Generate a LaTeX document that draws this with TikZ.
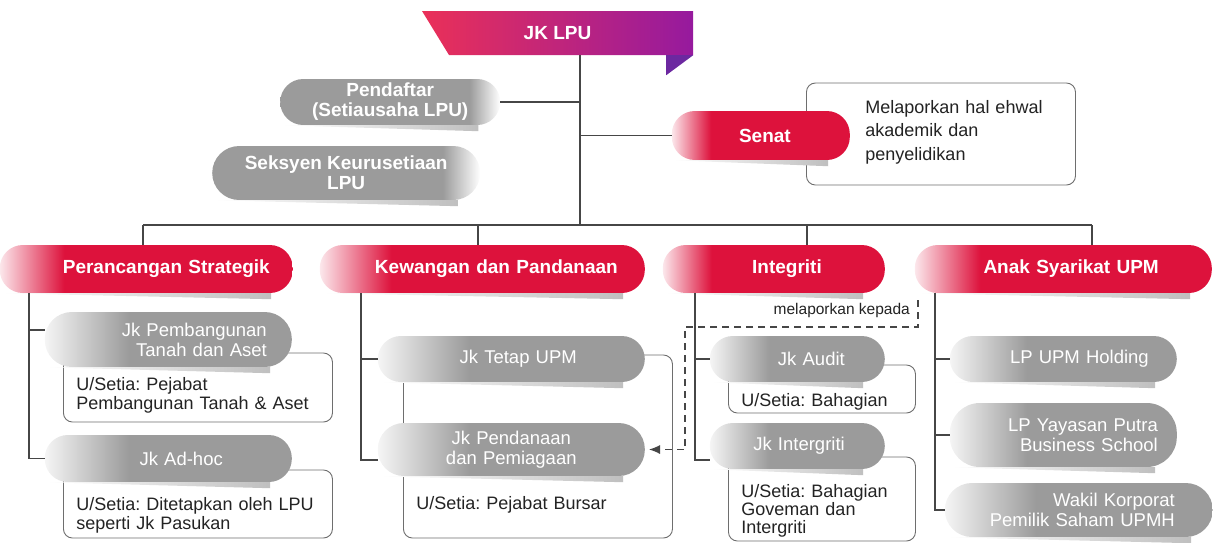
\documentclass[tikz,border=0pt]{standalone}
\usepackage{fontspec}
\setmainfont{Liberation Sans}
\usepackage{xcolor}
\usetikzlibrary{arrows.meta,positioning}
\definecolor{upmred}{RGB}{221,18,60}
\definecolor{pillgrey}{RGB}{155,155,155}
\definecolor{bannerleft}{RGB}{234,48,88}
\definecolor{bannerright}{RGB}{150,26,158}
\definecolor{foldpurple}{RGB}{108,40,160}
\definecolor{linegrey}{RGB}{70,70,70}
\definecolor{boxgrey}{RGB}{110,110,110}
\definecolor{textgrey}{RGB}{35,35,35}
\pgfdeclarehorizontalshading{headfade}{100bp}{color(0bp)=(upmred!10); color(25bp)=(upmred!10); color(36bp)=(upmred); color(100bp)=(upmred)}
\pgfdeclarehorizontalshading{greyfade}{100bp}{color(0bp)=(white); color(25bp)=(white!90!pillgrey); color(42bp)=(pillgrey); color(100bp)=(pillgrey)}
\pgfdeclarehorizontalshading{greyedge}{100bp}{color(0bp)=(pillgrey); color(68bp)=(pillgrey); color(75bp)=(white); color(100bp)=(white)}
\pgfdeclarehorizontalshading{bannerfade}{100bp}{color(0bp)=(bannerleft); color(25bp)=(bannerleft); color(75bp)=(bannerright); color(100bp)=(bannerright)}
\frenchspacing

\begin{document}
\begin{tikzpicture}[x=1pt, y=-1pt]
  \tikzstyle{conn}=[draw=linegrey, line width=1.2pt]
  \tikzstyle{pill}=[rectangle, rounded corners=23pt, shade, shading angle=0, inner ysep=0pt, align=right, text=white, anchor=east]
  \tikzstyle{headpill}=[pill, shading=headfade, minimum height=48pt, font=\fontsize{19}{21}\selectfont\bfseries]
  \tikzstyle{greypill}=[pill, shading=greyfade, minimum height=46pt, font=\fontsize{18.5}{20}\selectfont]
  \tikzstyle{toppill}=[pill, shading=greyedge, anchor=west, align=center, font=\fontsize{19}{20}\selectfont\bfseries]
  \tikzstyle{usbox}=[draw=boxgrey, line width=0.9pt, fill=white, rounded corners=9pt, align=left, inner xsep=13pt, inner ysep=0pt, anchor=base west, text=textgrey, font=\fontsize{18}{19.5}\selectfont]
  \tikzstyle{notetext}=[text=textgrey, font=\fontsize{15.5}{17}\selectfont]
  \useasboundingbox (0,0) rectangle (1214,542);

  % boxes behind the pills
  \node[usbox, inner xsep=0pt, text width=269pt, text height=30pt, text depth=72pt, font=\fontsize{18}{23.5}\selectfont] (senatnote) at (806,113)
    {\hspace*{59pt}\begin{tabular}[t]{@{}l@{}}Melaporkan hal ehwal\\akademik dan\\penyelidikan\end{tabular}};
  \node[usbox, text width=243pt, text height=37pt, text depth=32pt] (pembangunanus) at (63,390) {U/Setia: Pejabat\\Pembangunan Tanah \& Aset};
  \node[usbox, text width=243pt, text height=40pt, text depth=28pt] (adhocus) at (63,510) {U/Setia: Ditetapkan oleh LPU\\seperti Jk Pasukan};
  \node[usbox, text width=243pt, text height=154pt, text depth=29pt] (kewanganus) at (403,509) {U/Setia: Pejabat Bursar};
  \node[usbox, text width=161pt, text height=41pt, text depth=7pt] (auditus) at (728,406) {U/Setia: Bahagian};
  \node[usbox, text width=161pt, text height=40pt, text depth=44pt, font=\fontsize{18}{18}\selectfont] (intergritius) at (728,497) {U/Setia: Bahagian\\Goveman dan\\Intergriti};

  % top level
  \node[minimum width=271pt, minimum height=44pt, inner sep=0pt, text=white, font=\fontsize{19}{21}\selectfont\bfseries,
        path picture={\shade[shading=bannerfade] (path picture bounding box.north west) -- (path picture bounding box.north east)
          -- (path picture bounding box.south east) -- ([xshift=27pt]path picture bounding box.south west) -- cycle;}] (jklpu) at (557.5,33) {JK LPU};
  \fill[foldpurple] ([xshift=-27pt]jklpu.south east) -- (jklpu.south east) -- ([xshift=-27pt, yshift=-20pt]jklpu.south east) -- cycle;
  \node[toppill, minimum width=220pt, minimum height=46pt] (pendaftar) at (280,102) {Pendaftar\\(Setiausaha LPU)};
  \node[toppill, minimum width=268pt, minimum height=54pt, rounded corners=27pt] (seksyen) at (212,173) {Seksyen Keurusetiaan\\LPU};
  \node[headpill, minimum height=49pt, inner xsep=59pt, text width=60pt] (senat) at (850,135.5) {Senat};

  % divisions
  \node[headpill, inner xsep=23pt, text width=247pt] (strategik) at (293,269) {Perancangan Strategik};
  \node[headpill, inner xsep=27pt, text width=271pt] (kewangan) at (645,269) {Kewangan dan Pandanaan};
  \node[headpill, inner xsep=63pt, text width=96pt] (integriti) at (885,269) {Integriti};
  \node[headpill, inner xsep=53pt, text width=191pt] (anak) at (1212,269) {Anak Syarikat UPM};

  % committees
  \node[greypill, minimum height=55pt, rounded corners=27pt, inner xsep=25pt, text width=197pt] (pembangunan) at (292,339.5) {Jk Pembangunan\\Tanah dan Aset};
  \node[greypill, minimum height=47pt, inner xsep=69pt, text width=109pt] (adhoc) at (292,458.5) {Jk Ad-hoc};
  \node[greypill, inner xsep=68pt, text width=131pt] (tetap) at (645,359) {Jk Tetap UPM};
  \node[greypill, minimum height=53pt, rounded corners=26pt, inner xsep=63pt, text width=141pt, align=center] (pendanaan) at (645,449.5) {Jk Pendanaan\\dan Pemiagaan};
  \node[greypill, inner xsep=40pt, text width=95pt] (audit) at (885,359) {Jk Audit};
  \node[greypill, inner xsep=40pt, text width=95pt] (intergriti) at (885,446) {Jk Intergriti};
  \node[greypill, inner xsep=28pt, text width=171pt] (holding) at (1177,359) {LP UPM Holding};
  \node[greypill, minimum height=64pt, rounded corners=30pt, inner xsep=19pt, text width=189pt] (yayasan) at (1177,435) {LP Yayasan Putra\\Business School};
  \node[greypill, minimum height=54pt, rounded corners=27pt, inner xsep=38pt, text width=192pt] (wakil) at (1213,510) {Wakil Korporat\\Pemilik Saham UPMH};
  \node[notetext, anchor=north east, inner xsep=8pt, inner ysep=0pt, minimum height=20pt] (lapor) at (918,300) {melaporkan kepada};

  % soft shadows under the ribbons
  \foreach \n in {strategik, kewangan, integriti, anak, senat, pembangunan, adhoc, tetap, pendanaan, audit, intergriti, holding, yayasan, wakil, pendaftar, seksyen}
    \shade[left color=white, right color=black!25] (\n.south west) -- ([xshift=-22pt]\n.south east) -- ([xshift=-22pt, yshift=-6pt]\n.south east) -- cycle;

  \coordinate (hub) at (580,225);
  \coordinate (drop1) at (143,225);
  \coordinate (drop2) at (478,225);
  \coordinate (drop3) at (807,225);
  \coordinate (drop4) at (1092,225);
  \coordinate (trunk1) at (29,300);
  \coordinate (trunk2) at (361,300);
  \coordinate (trunk3) at (695,300);
  \coordinate (trunk4) at (935,300);
  \coordinate (dashturn) at (685,327);

  \draw[conn] (jklpu.south -| hub) -- (hub);
  \draw[conn] (pendaftar.east) -- (pendaftar.east -| hub);
  \draw[conn] (senat.west -| hub) -- (senat.west);
  \draw[conn] (drop1) -- (drop4);
  \foreach \d/\h in {drop1/strategik, drop2/kewangan, drop3/integriti, drop4/anak}
    \draw[conn] (\d) -- (\d |- \h.north);

  \draw[conn] (strategik.south -| trunk1) |- (adhoc.west);
  \draw[conn] ([yshift=9.5pt]pembangunan.west) -- ([yshift=9.5pt]pembangunan.west -| trunk1);
  \draw[conn] (kewangan.south -| trunk2) |- ([yshift=-10.5pt]pendanaan.west);
  \draw[conn] (tetap.west) -- (tetap.west -| trunk2);
  \draw[conn] (integriti.south -| trunk3) |- ([yshift=-14pt]intergriti.west);
  \draw[conn] (audit.west) -- (audit.west -| trunk3);
  \draw[conn] (anak.south -| trunk4) |- (wakil.west);
  \draw[conn] (holding.west) -- (holding.west -| trunk4);
  \draw[conn] (yayasan.west) -- (yayasan.west -| trunk4);

  \draw[conn, line width=1.1pt, dash pattern=on 7pt off 5pt, -{Latex[length=11pt, width=9pt]}, shorten >=4pt] (lapor.north east) |- (dashturn) |- (pendanaan.east);
\end{tikzpicture}
\end{document}
